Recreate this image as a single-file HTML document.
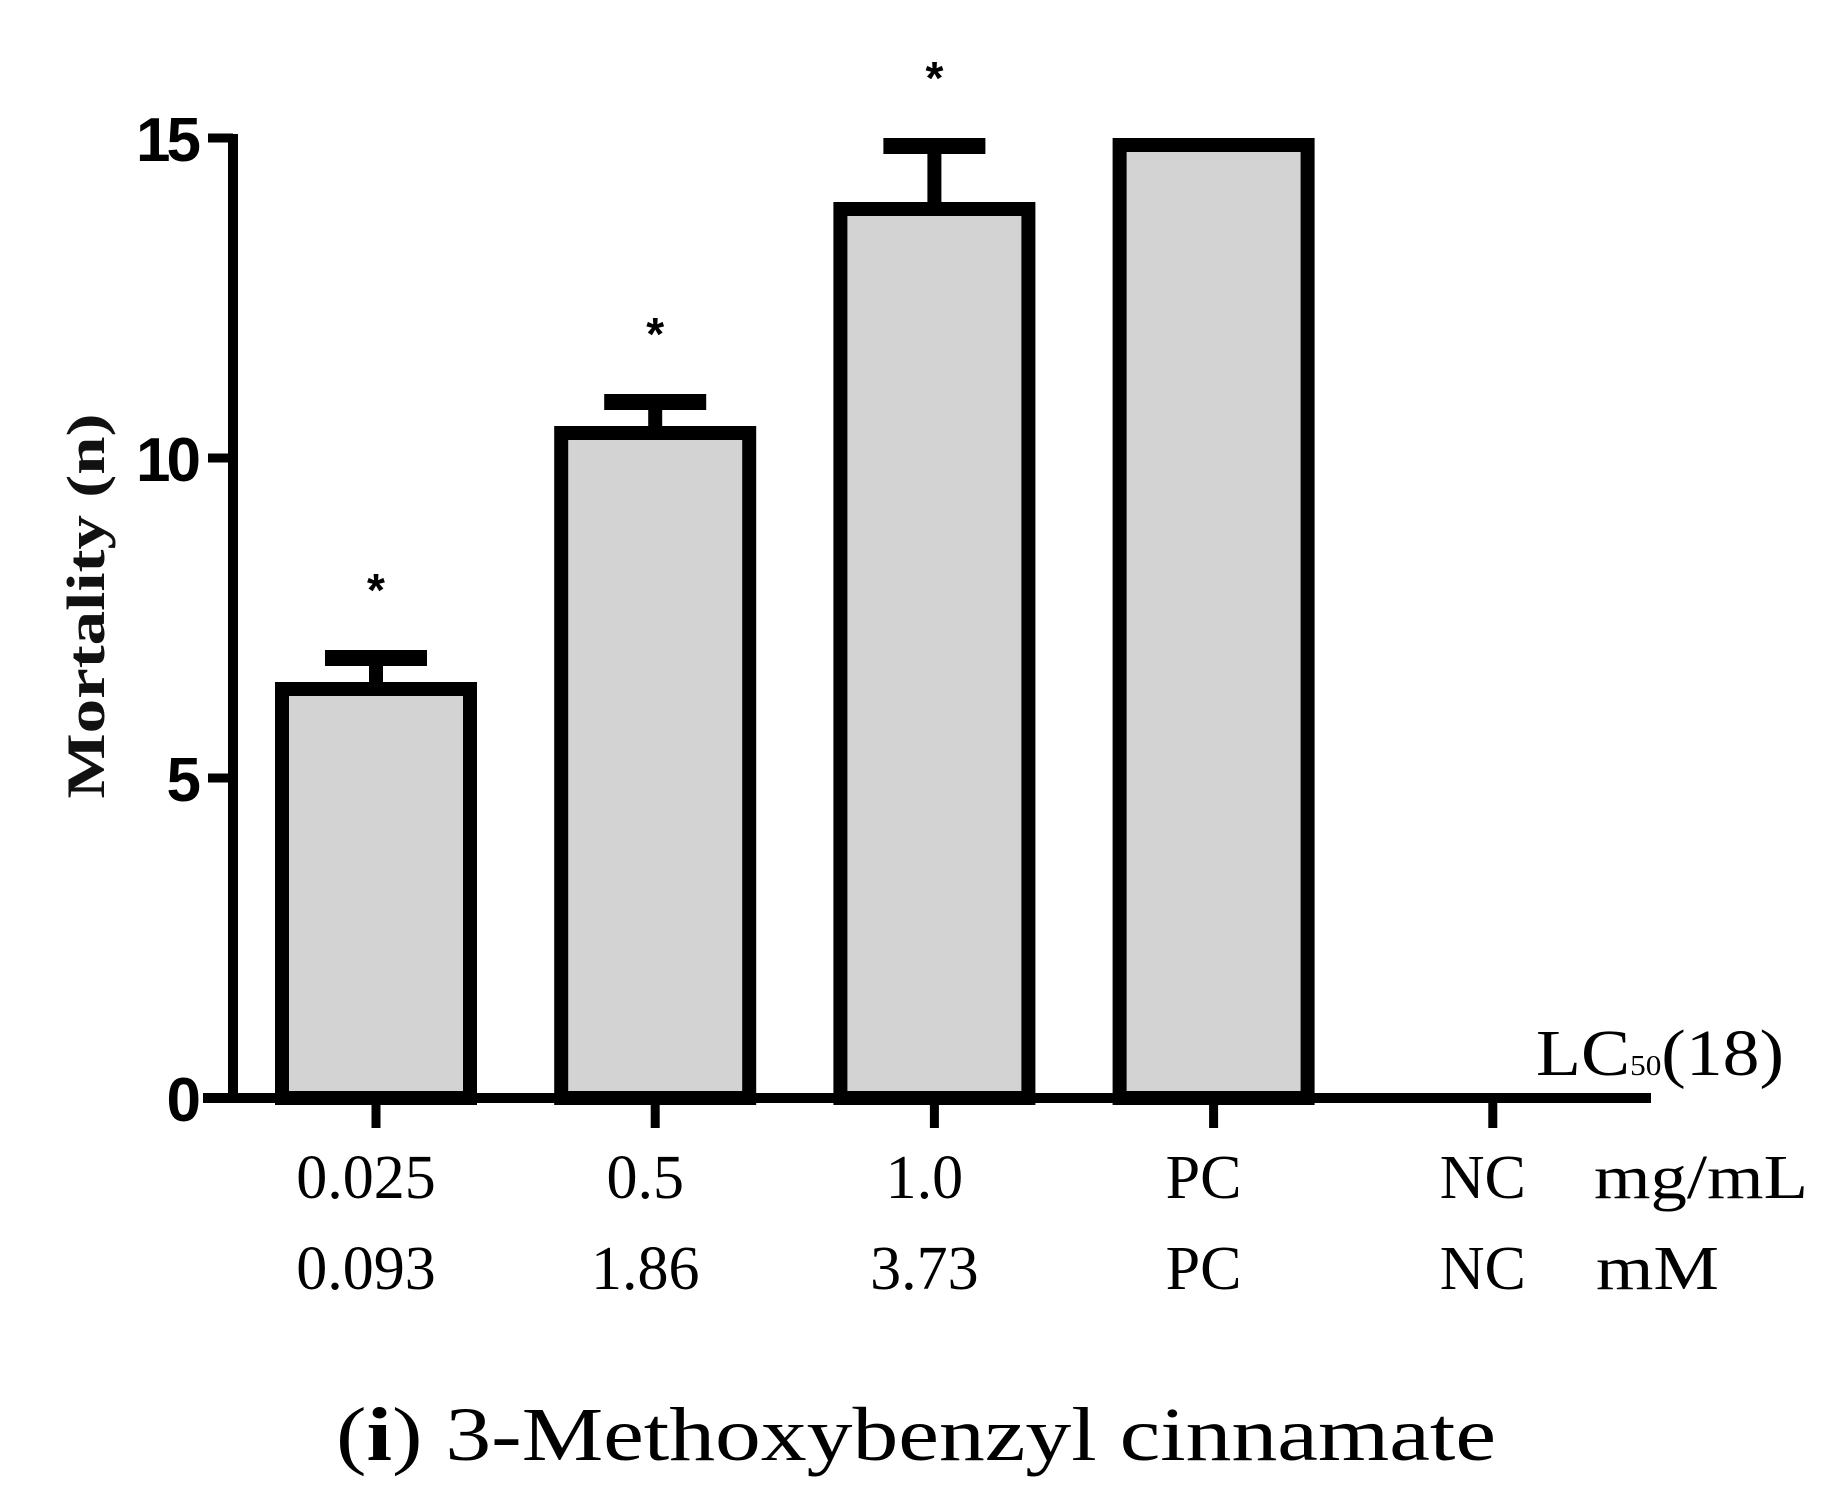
<!DOCTYPE html>
<html><head><meta charset="utf-8"><style>
html,body{margin:0;padding:0;background:#fff;}
svg{display:block;}
</style></head><body>
<svg id="chart" width="1843" height="1511" viewBox="0 0 1843 1511" xmlns="http://www.w3.org/2000/svg">
<g id="axes"></g><g id="bars"></g><g id="labels"></g>
</svg>
<script>
const categories = ["0.025","0.5","1.0","PC","NC"];
const categoriesMM = ["0.093","1.86","3.73","PC","NC"];
const values = [6.5,10.5,14,15,0];
const errors = [0.5,0.5,1,0,0];
const significant = [true,true,true,false,false];
const yTicks = [0,5,10,15];
const yTickLabels = ["0","5","10","15"];

const NS="http://www.w3.org/2000/svg";
const y0=1098, yTop=138, yMax=15;
function yScale(v){return y0-(y0-yTop)*v/yMax;}
function xScale(i){return 376+i*279.2;}
function mk(tag,attrs,parent,text){const e=document.createElementNS(NS,tag);for(const k in attrs)e.setAttribute(k,attrs[k]);if(text!==undefined)e.textContent=text;parent.appendChild(e);return e;}
const axes=document.getElementById('axes'),bars=document.getElementById('bars'),labels=document.getElementById('labels');

let yl=mk('line',{x1:233,y1:yScale(15)-4,x2:233,y2:y0+5,stroke:'#000','stroke-width':10},axes);


let xl=mk('line',{x1:203,y1:y0,x2:1651,y2:y0,stroke:'#000','stroke-width':10},axes);


yTicks.forEach((t,i)=>{
  const y=yScale(t);
  const tk=mk('line',{x1:208,y1:y,x2:233,y2:y,stroke:'#000','stroke-width':9},axes);
  
  
  const lb=mk('text',{x:197,y:y+23,'text-anchor':'end','font-family':'Liberation Sans, sans-serif','font-weight':'bold','font-size':62,'letter-spacing':-4},labels,yTickLabels[i]);
  
  
});
categories.forEach((c,i)=>{
  const x=xScale(i);
  const tk=mk('line',{x1:x,y1:y0,x2:x,y2:1128,stroke:'#000','stroke-width':9},axes);
  
  
  const l1=mk('text',{x:x-10,y:1198,'text-anchor':'middle','font-family':'Liberation Serif, serif','font-size':62},labels,c);
  
  
  const l2=mk('text',{x:x-10,y:1289,'text-anchor':'middle','font-family':'Liberation Serif, serif','font-size':62},labels,categoriesMM[i]);
  
  
  const v=values[i];
  if(v>0){
    const top=yScale(v);
    const r=mk('rect',{x:x-94,y:top+7,width:188,height:y0-top-7,fill:'#d3d3d3',stroke:'#000','stroke-width':14},bars);
    
    
  }
  if(errors[i]>0){
    const ye=yScale(v+errors[i]);
    const el=mk('line',{x1:x,y1:yScale(v),x2:x,y2:ye,stroke:'#000','stroke-width':14},bars);
    
    
    const cp=mk('line',{x1:x-51,y1:ye+8,x2:x+51,y2:ye+8,stroke:'#000','stroke-width':16},bars);
    
    
  }
  if(significant[i]){
    const ys=yScale(v+errors[i]);
    const s=mk('text',{x:x,y:ys-44,'text-anchor':'middle','font-family':'Liberation Sans, sans-serif','font-weight':'bold','font-size':46},labels,'*');
    
    
  }
});
</script>
<svg style="position:absolute;left:0;top:0" width="1843" height="1511" xmlns="http://www.w3.org/2000/svg">
<text transform="translate(104,606) rotate(-90)" text-anchor="middle" font-family="Liberation Serif, serif" font-weight="bold" font-size="54" fill="#111" textLength="385" lengthAdjust="spacingAndGlyphs">Mortality (n)</text>
<text x="1594" y="1198" font-family="Liberation Serif, serif" font-size="62" textLength="214" lengthAdjust="spacingAndGlyphs">mg/mL</text>
<text x="1596" y="1289" font-family="Liberation Serif, serif" font-size="62" textLength="123" lengthAdjust="spacingAndGlyphs">mM</text>
<text x="1536" y="1075" font-family="Liberation Serif, serif" font-size="66" textLength="248" lengthAdjust="spacingAndGlyphs">LC<tspan font-size="28">50</tspan>(18)</text>
<text x="336" y="1460" font-family="Liberation Serif, serif" font-size="76" textLength="1160" lengthAdjust="spacingAndGlyphs">(<tspan font-weight="bold">i</tspan>) 3-Methoxybenzyl cinnamate</text>
</svg>
</body></html>
